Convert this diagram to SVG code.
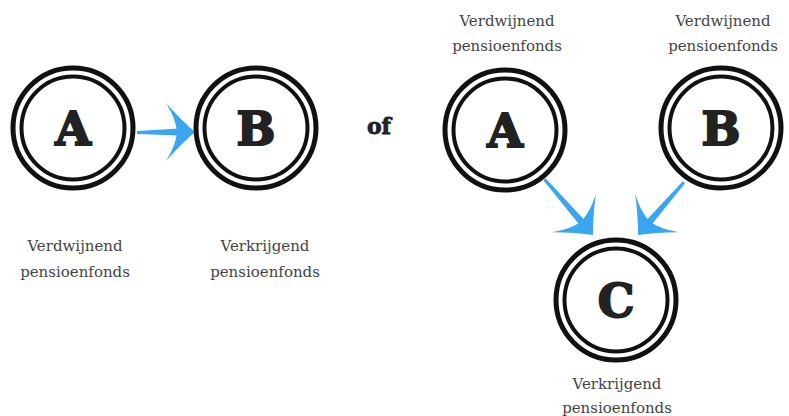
<svg xmlns="http://www.w3.org/2000/svg" width="789" height="416" viewBox="0 0 789 416">
<defs>
<style>
.ro{fill:none;stroke:#111;stroke-width:5}
.ri{fill:none;stroke:#111;stroke-width:4}
.lt{font-family:"DejaVu Serif","Liberation Serif",serif;font-weight:bold;font-size:46px;fill:#222;stroke:#222;stroke-width:2;text-anchor:middle}
.lb{font-family:"DejaVu Serif","Liberation Serif",serif;font-size:15px;fill:#444;text-anchor:middle}
.of{font-family:"DejaVu Serif","Liberation Serif",serif;font-weight:bold;font-size:22px;fill:#222;stroke:#222;stroke-width:0.8;text-anchor:middle}
.ar{fill:#3aa6ef}
</style>
<g id="head">
<path class="ar" d="M0,0 Q-13,-11 -29,-29 Q-19,-13 -18,0 Q-19,13 -29,29 Q-13,11 0,0 Z"/>
</g>
</defs>
<rect width="789" height="416" fill="#fff"/>
<g id="connectors">
<g transform="translate(195,132)">
<path class="ar" d="M-58,-1 L-16,-3.5 L-16,3.5 L-58,2 Z"/>
<use href="#head"/>
</g>
<g transform="translate(593,235) rotate(49)">
<path class="ar" d="M-74,-1.5 L-16,-3.5 L-16,3.5 L-74,1.5 Z"/>
<use href="#head"/>
</g>
<g transform="translate(638,235) rotate(131)">
<path class="ar" d="M-70,-1.5 L-16,-3.5 L-16,3.5 L-70,1.5 Z"/>
<use href="#head"/>
</g>
</g>
<g id="nodeA1">
<circle class="ro" cx="73" cy="128" r="60"/>
<circle class="ri" cx="73" cy="128" r="51.5"/>
<text class="lt" x="73" y="145">A</text>
</g>
<g id="nodeB1">
<circle class="ro" cx="256" cy="128" r="60"/>
<circle class="ri" cx="256" cy="128" r="51.5"/>
<text class="lt" x="256" y="145">B</text>
</g>
<g id="labelA1">
<text class="lb" x="75" y="251">Verdwijnend</text>
<text class="lb" x="75" y="277">pensioenfonds</text>
</g>
<g id="labelB1">
<text class="lb" x="265" y="251">Verkrijgend</text>
<text class="lb" x="265" y="277">pensioenfonds</text>
</g>
<text class="of" x="379" y="134">of</text>
<g id="nodeA2">
<circle class="ro" cx="505" cy="130" r="60"/>
<circle class="ri" cx="505" cy="130" r="51.5"/>
<text class="lt" x="505" y="147">A</text>
</g>
<g id="nodeB2">
<circle class="ro" cx="721" cy="128" r="60"/>
<circle class="ri" cx="721" cy="128" r="51.5"/>
<text class="lt" x="721" y="145">B</text>
</g>
<g id="nodeC">
<circle class="ro" cx="616" cy="300" r="60"/>
<circle class="ri" cx="616" cy="300" r="51.5"/>
<text class="lt" x="616" y="317">C</text>
</g>
<g id="labelA2">
<text class="lb" x="507" y="26">Verdwijnend</text>
<text class="lb" x="507" y="51">pensioenfonds</text>
</g>
<g id="labelB2">
<text class="lb" x="723" y="26">Verdwijnend</text>
<text class="lb" x="723" y="51">pensioenfonds</text>
</g>
<g id="labelC">
<text class="lb" x="617" y="389">Verkrijgend</text>
<text class="lb" x="617" y="413">pensioenfonds</text>
</g>
</svg>
